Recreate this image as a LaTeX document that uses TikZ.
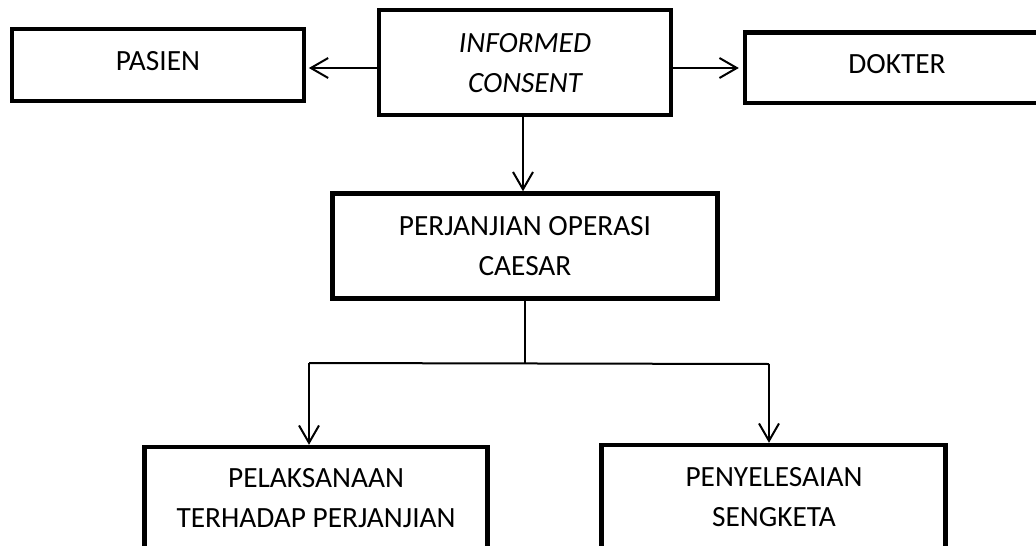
\documentclass[tikz,border=0pt]{standalone}
\usepackage{fontspec}
\setmainfont{Carlito}
\usetikzlibrary{arrows.meta}
\tikzset{
  box/.style={draw=black, line width=3.3pt, fill=white, inner sep=0pt},
  lbl/.style={anchor=base, inner sep=0pt, font=\fontsize{22}{30}\selectfont},
  conn/.style={line width=1.5pt, draw=black},
  arr/.style={conn, -{Straight Barb[length=13pt,width=15pt,line width=1.5pt]}},
}
\begin{document}
\begin{tikzpicture}[x=0.75pt,y=-0.75pt]
\useasboundingbox (0,0) rectangle (1036,546);
\fill[white] (0,0) rectangle (1036,546);
\clip (0,0) rectangle (1036,546);
% boxes
\node[box, minimum width=219pt, minimum height=54pt] (pasien) at (158,65) {};
\node[box, minimum width=219pt, minimum height=78.75pt] (ic) at (525,62.5) {};
\node[box, minimum width=228pt, minimum height=52.9pt] (dokter) at (897,67.75) {};
\node[box, minimum width=288.75pt, minimum height=78.75pt] (perj) at (525,246) {};
\node[box, minimum width=257.25pt, minimum height=78.75pt] (pel) at (316,499.5) {};
\node[box, minimum width=258pt, minimum height=78.75pt] (pen) at (773.5,497.5) {};
% texts
\node[lbl] (pasienT) at (158,70) {PASIEN};
\node[lbl] (icT) at (525,52) {\begin{tabular}[t]{@{}c@{}}\itshape INFORMED\\ \itshape CONSENT\end{tabular}};
\node[lbl] (dokterT) at (897,73) {DOKTER};
\node[lbl] (perjT) at (525,235) {\begin{tabular}[t]{@{}c@{}}PERJANJIAN OPERASI\\ CAESAR\end{tabular}};
\node[lbl] (pelT) at (316,487) {\begin{tabular}[t]{@{}c@{}}PELAKSANAAN\\ TERHADAP PERJANJIAN\end{tabular}};
\node[lbl] (penT) at (774,486) {\begin{tabular}[t]{@{}c@{}}PENYELESAIAN\\ SENGKETA\end{tabular}};
% connectors
\coordinate (y68) at (0,68);
\draw[arr, shorten >=2pt] (ic.west |- y68) -- (pasien.east |- y68);
\draw[arr, shorten >=3pt] (ic.east |- y68) -- (dokter.west |- y68);
\draw[arr] ([xshift=-1.5pt]ic.south) -- ([xshift=-1.5pt]perj.north);
\coordinate (j) at (525,363);
\coordinate (jl) at (309,363);
\coordinate (jr) at (769,364);
\draw[conn] (perj.south) -- (j);
\draw[conn] (jl) -- (jr);
\draw[arr] (jl) -- (jl |- pel.north);
\draw[arr] (jr) -- (jr |- pen.north);
\end{tikzpicture}
\end{document}
